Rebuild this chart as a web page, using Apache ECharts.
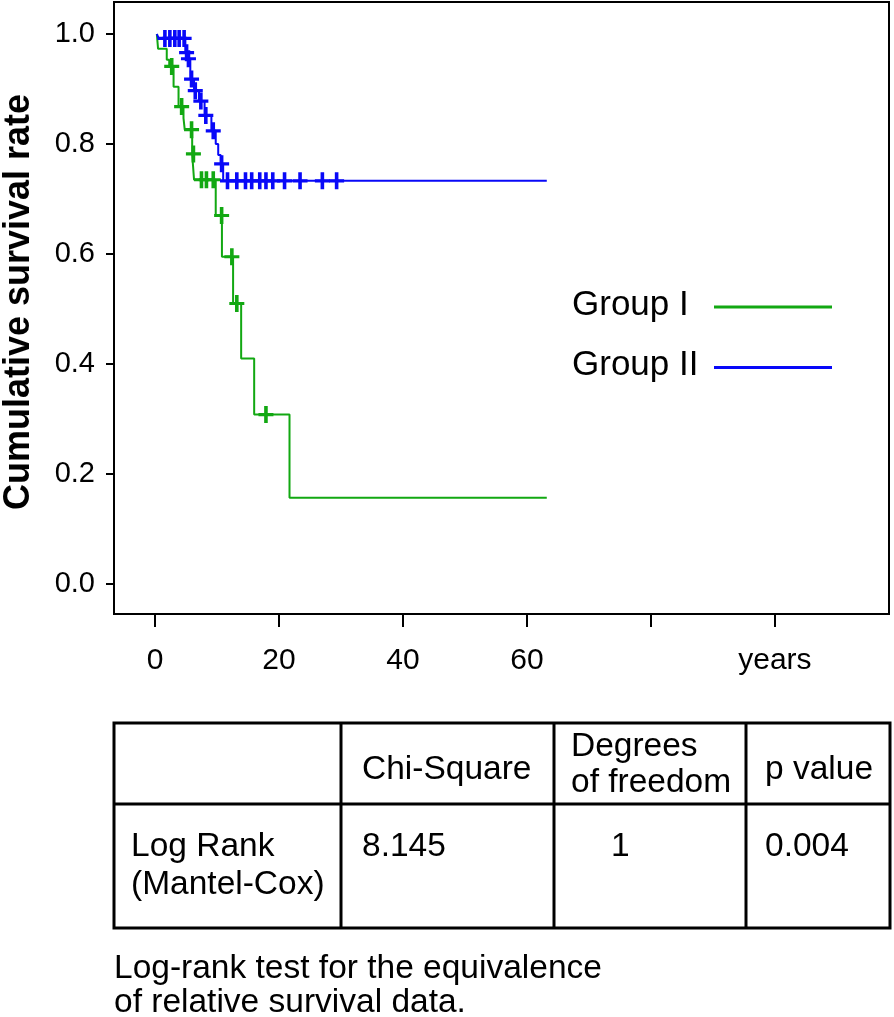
<!DOCTYPE html>
<html>
<head>
<meta charset="utf-8">
<script src="https://cdn.jsdelivr.net/npm/echarts@6/dist/echarts.min.js"></script>
<style>
html,body{margin:0;padding:0;background:#fff;}
#chart{width:894px;height:1017px;}
</style>
</head>
<body>
<div id="chart"></div>
<script>
// ---- data ----
const groupNames = ['Group I', 'Group II'];
// Group I Kaplan-Meier steps (time in years, survival after the step)
const g1Times = [0.3, 0.5, 1.9, 2.3, 3.0, 3.8, 4.6, 4.8, 6.0, 6.3, 9.8, 10.8, 12.6, 13.9, 16.0, 21.7, 63.2];
const g1Surv  = [1.0, 0.973, 0.953, 0.941, 0.904, 0.868, 0.847, 0.826, 0.782, 0.735, 0.670, 0.595, 0.510, 0.410, 0.308, 0.157, 0.157];
const g1CensorTimes = [2.7, 4.3, 5.9, 6.2, 7.5, 8.3, 9.4, 10.75, 12.4, 13.2, 17.9];
const g1CensorSurv  = [0.941, 0.868, 0.826, 0.782, 0.735, 0.735, 0.735, 0.670, 0.595, 0.510, 0.308];
// Group II
const g2Times = [0.3, 0.6, 4.9, 5.3, 5.7, 6.3, 7.1, 8.0, 9.1, 9.8, 10.2, 10.6, 11.0, 63.2];
const g2Surv  = [1.0, 0.992, 0.966, 0.955, 0.918, 0.897, 0.878, 0.852, 0.824, 0.800, 0.780, 0.764, 0.733, 0.733];
const g2CensorTimes = [1.6, 2.4, 3.2, 3.9, 4.7, 5.1, 5.4, 5.9, 6.5, 7.4, 8.2, 9.4, 10.75, 11.7, 13.2, 14.6, 15.6, 16.9, 17.9, 19.0, 20.9, 23.4, 27.0, 29.3];
const g2CensorSurv  = [0.992, 0.992, 0.992, 0.992, 0.992, 0.966, 0.955, 0.918, 0.897, 0.878, 0.852, 0.824, 0.764, 0.733, 0.733, 0.733, 0.733, 0.733, 0.733, 0.733, 0.733, 0.733, 0.733, 0.733];
// axes
const xTickValues = [0, 20, 40, 60, 80, 100];
const xTickLabels = ['0', '20', '40', '60', '', 'years'];
const yTickValues = [0, 0.2, 0.4, 0.6, 0.8, 1.0];
const yTickLabels = ['0.0', '0.2', '0.4', '0.6', '0.8', '1.0'];
const yTitle = 'Cumulative survival rate';
// table
const tableHeader = [[], ['Chi-Square'], ['Degrees', 'of freedom'], ['p value']];
const tableRow = [['Log Rank', '(Mantel-Cox)'], ['8.145'], ['1'], ['0.004']];
const captionLines = ['Log-rank test for the equivalence', 'of relative survival data.'];

// ---- styles ----
const FONT = "'Liberation Sans', Arial, Helvetica, sans-serif";
const GREEN = '#12a812';
const BLUE = '#0808f8';
const crossPath = 'path://M-1.8,-8 h3.6 v16 h-3.6 z M-7.5,-1.5 h15 v3 h-15 z';

const pairs = (a, b) => a.map((v, i) => [v, b[i]]);

const chart = echarts.init(document.getElementById('chart'), null, {renderer: 'canvas'});

// graphic: legend, y title, table, caption
const graphics = [];
graphics.push({
  type: 'text', x: 19, y: 302, rotation: Math.PI / 2,
  style: {text: yTitle, font: "bold 36px " + FONT, fill: '#000', align: 'center', verticalAlign: 'middle'}
});
const legendColors = [GREEN, BLUE];
const legendY = [305, 365.5];
groupNames.forEach((n, i) => {
  graphics.push({type: 'text', x: 572, y: legendY[i],
    style: {text: n, font: "35px " + FONT, fill: '#000', align: 'left', verticalAlign: 'middle'}});
  graphics.push({type: 'line', shape: {x1: 714, y1: legendY[i] + 2, x2: 832, y2: legendY[i] + 2},
    style: {stroke: legendColors[i], lineWidth: 3}});
});
// table
const colX = [114, 341, 554, 746, 890];
const rowY = [723, 804, 928];
graphics.push({type: 'rect', shape: {x: colX[0], y: rowY[0], width: colX[4] - colX[0], height: rowY[2] - rowY[0]},
  style: {fill: 'none', stroke: '#000', lineWidth: 3}});
for (let c = 1; c < 4; c++) {
  graphics.push({type: 'line', shape: {x1: colX[c], y1: rowY[0], x2: colX[c], y2: rowY[2]}, style: {stroke: '#000', lineWidth: 3}});
}
graphics.push({type: 'line', shape: {x1: colX[0], y1: rowY[1], x2: colX[4], y2: rowY[1]}, style: {stroke: '#000', lineWidth: 3}});
const textX = [131, 362, 571, 765];
function addCell(lines, col, ys, xOverride) {
  lines.forEach((t, k) => {
    graphics.push({type: 'text', x: xOverride || textX[col], y: ys[k],
      style: {text: t, font: "33.5px " + FONT, fill: '#000', align: 'left', verticalAlign: 'middle'}});
  });
}
tableHeader.forEach((lines, c) => {
  if (lines.length === 1) addCell(lines, c, [770]);
  else if (lines.length === 2) addCell(lines, c, [747, 783]);
});
tableRow.forEach((lines, c) => {
  addCell(lines, c, [847, 885], c === 2 ? 611 : null);
});
captionLines.forEach((t, k) => {
  graphics.push({type: 'text', x: 114, y: 969 + k * 34,
    style: {text: t, font: "33.5px " + FONT, fill: '#000', align: 'left', verticalAlign: 'middle'}});
});

const option = {
  animation: false,
  backgroundColor: '#fff',
  grid: {left: 114, right: 5, top: 2, bottom: 403, show: true, borderColor: '#000', borderWidth: 2, containLabel: false},
  xAxis: {
    type: 'value', min: -6.61, max: 118.4, position: 'bottom',
    axisLine: {show: false, onZero: false},
    splitLine: {show: false},
    axisTick: {show: true, inside: false, length: 13, customValues: xTickValues, lineStyle: {color: '#000', width: 2}},
    axisLabel: {customValues: xTickValues, margin: 32, fontSize: 30, fontFamily: FONT, color: '#000',
      formatter: v => xTickLabels[xTickValues.indexOf(v)] || ''}
  },
  yAxis: {
    type: 'value', min: -0.0545, max: 1.0582, position: 'left',
    axisLine: {show: false, onZero: false},
    splitLine: {show: false},
    axisTick: {show: true, inside: false, length: 8, customValues: yTickValues, lineStyle: {color: '#000', width: 2}},
    axisLabel: {customValues: yTickValues, margin: 19, fontSize: 29, fontFamily: FONT, color: '#000',
      formatter: v => { const i = yTickValues.findIndex(t => Math.abs(t - v) < 1e-6); return i >= 0 ? yTickLabels[i] : ''; }}
  },
  series: [
    {name: groupNames[0], type: 'line', step: 'end', data: pairs(g1Times, g1Surv), showSymbol: false,
      lineStyle: {color: GREEN, width: 2}, itemStyle: {color: GREEN}, silent: true, z: 3},
    {name: groupNames[1], type: 'line', step: 'end', data: pairs(g2Times, g2Surv), showSymbol: false,
      lineStyle: {color: BLUE, width: 2}, itemStyle: {color: BLUE}, silent: true, z: 4},
    {name: groupNames[0] + ' censored', type: 'scatter', data: pairs(g1CensorTimes, g1CensorSurv),
      symbol: crossPath, symbolSize: [15, 17], symbolKeepAspect: false, itemStyle: {color: GREEN, opacity: 1}, silent: true, z: 5},
    {name: groupNames[1] + ' censored', type: 'scatter', data: pairs(g2CensorTimes, g2CensorSurv),
      symbol: crossPath, symbolSize: [15, 17], symbolKeepAspect: false, itemStyle: {color: BLUE, opacity: 1}, silent: true, z: 6}
  ],
  graphic: graphics
};
chart.setOption(option);
</script>
</body>
</html>
